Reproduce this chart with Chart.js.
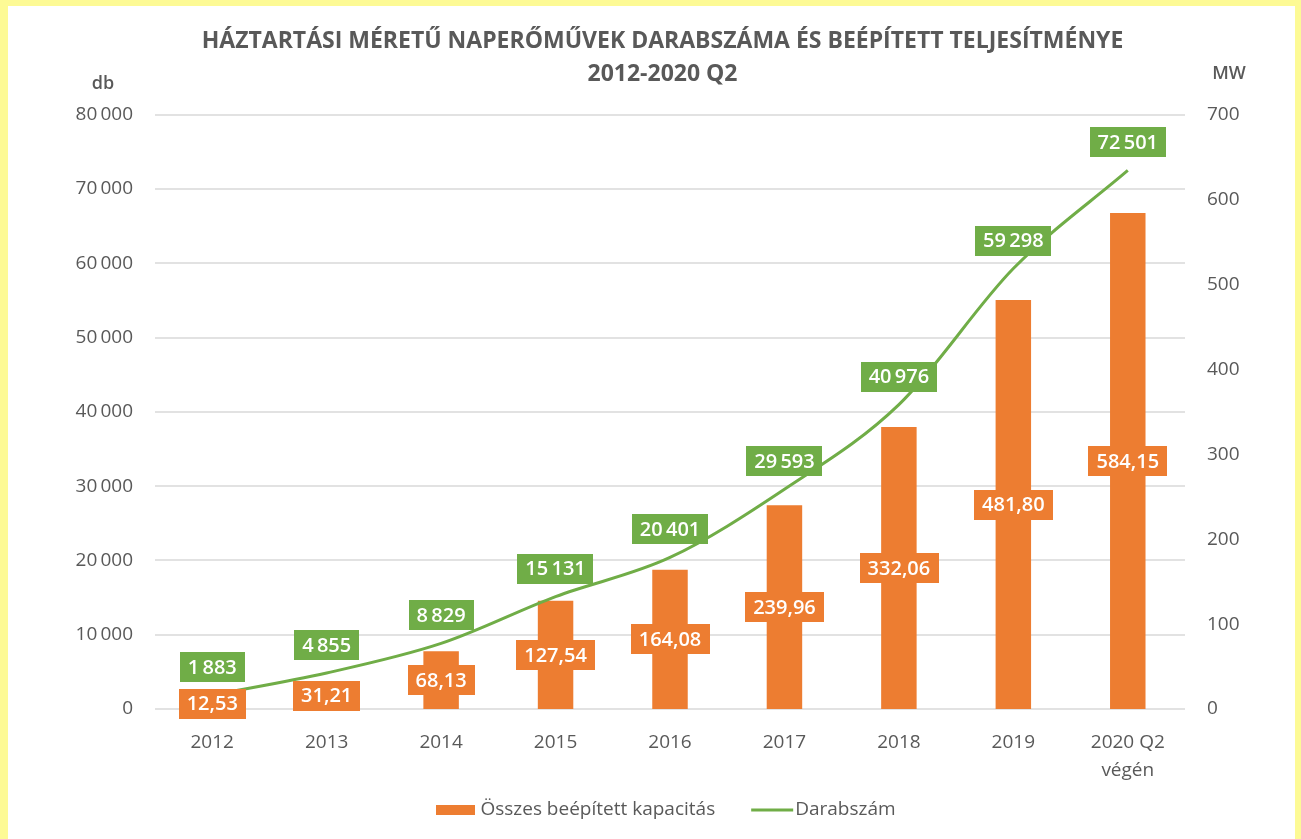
<!DOCTYPE html>
<html lang="hu">
<head>
<meta charset="utf-8">
<title>Háztartási méretű naperőművek</title>
<script src="https://cdn.jsdelivr.net/npm/chart.js@4.4.1/dist/chart.umd.min.js"></script>
<style>
  html, body { margin: 0; padding: 0; width: 1301px; height: 839px; overflow: hidden; background: #fdfa95; }
  #panel { position: absolute; left: 8px; top: 6px; width: 1287px; height: 833px; background: #ffffff; }
  canvas { display: block; }
</style>
</head>
<body>
<div id="panel"><canvas id="chart" width="1287" height="833"></canvas></div>
<script>
// Years shown on the category axis
const categories = ['2012', '2013', '2014', '2015', '2016', '2017', '2018', '2019', ['2020 Q2', 'végén']];
// Installed capacity, MW (bars, right axis)
const capacityMW = [12.53, 31.21, 68.13, 127.54, 164.08, 239.96, 332.06, 481.80, 584.15];
// Number of installations, pcs (line, left axis)
const unitCount = [1883, 4855, 8829, 15131, 20401, 29593, 40976, 59298, 72501];
// Axis ranges
const countAxisMax = 80000, countAxisStep = 10000;
const mwAxisMax = 700, mwAxisStep = 100;

const titleLines = ['HÁZTARTÁSI MÉRETŰ NAPERŐMŰVEK DARABSZÁMA ÉS BEÉPÍTETT TELJESÍTMÉNYE', '2012-2020 Q2'];
const seriesNames = ['Összes beépített kapacitás', 'Darabszám'];

const ORANGE = '#ED7D31';
const GREEN = '#70AD47';
const TEXT = '#595959';
const FONT = '"Open Sans", "DejaVu Sans", sans-serif';

// Hungarian number formats: space as thousands separator, comma as decimal mark
const fmtInt = v => String(Math.round(v)).replace(/\B(?=(\d{3})+(?!\d))/g, '\u2009');
const fmtDec = v => v.toFixed(2).replace('.', ',');

function labelBox(ctx, x, cy, text, fill) {
  const w = ctx.measureText(text).width + 16;
  const h = 30;
  ctx.fillStyle = fill;
  ctx.fillRect(Math.round(x - w / 2), Math.round(cy - h / 2), Math.round(w), h);
  ctx.fillStyle = '#ffffff';
  ctx.fillText(text, x, cy + 1);
}

// Value boxes on bars and line points, plus the unit captions above both axes
const valueLabels = {
  id: 'valueLabels',
  afterDatasetsDraw(chart) {
    const ctx = chart.ctx;
    ctx.save();
    ctx.font = '600 20px ' + FONT;
    ctx.textAlign = 'center';
    ctx.textBaseline = 'middle';
    chart.getDatasetMeta(0).data.forEach((bar, i) => {
      labelBox(ctx, bar.x, (bar.y + bar.base) / 2, fmtDec(capacityMW[i]), ORANGE);
    });
    chart.getDatasetMeta(1).data.forEach((pt, i) => {
      labelBox(ctx, pt.x, pt.y - 28, fmtInt(unitCount[i]), GREEN);
    });
    ctx.font = '600 18px ' + FONT;
    ctx.fillStyle = TEXT;
    const left = chart.scales.yCount, right = chart.scales.yMW;
    ctx.fillText('db', left.right - 52, chart.chartArea.top - 31);
    ctx.fillText('MW', right.left + 44, chart.chartArea.top - 41);
    ctx.restore();
  }
};

// Series key under the category axis: orange swatch for the bars, green stroke for the line
const seriesKey = {
  id: 'seriesKey',
  afterDraw(chart) {
    const ctx = chart.ctx;
    const area = chart.chartArea;
    const sw = 39, gapText = 5, gapItem = 36, lineW = 42;
    ctx.save();
    ctx.font = '19px ' + FONT;
    ctx.textBaseline = 'middle';
    ctx.textAlign = 'left';
    const w1 = ctx.measureText(seriesNames[0]).width;
    const w2 = ctx.measureText(seriesNames[1]).width;
    const total = sw + gapText + w1 + gapItem + lineW + 2 + w2;
    const cy = area.bottom + 101;
    let x = (area.left + area.right) / 2 - total / 2 - 4;
    ctx.fillStyle = ORANGE;
    ctx.fillRect(Math.round(x), Math.round(cy - 5), sw, 10);
    x += sw + gapText;
    ctx.fillStyle = TEXT;
    ctx.fillText(seriesNames[0], x, cy);
    x += w1 + gapItem;
    ctx.strokeStyle = GREEN;
    ctx.lineWidth = 3;
    ctx.beginPath();
    ctx.moveTo(x, cy);
    ctx.lineTo(x + lineW, cy);
    ctx.stroke();
    x += lineW + 2;
    ctx.fillText(seriesNames[1], x, cy);
    ctx.restore();
  }
};

new Chart(document.getElementById('chart'), {
  data: {
    labels: categories,
    datasets: [
      {
        type: 'bar',
        label: seriesNames[0],
        data: capacityMW,
        yAxisID: 'yMW',
        backgroundColor: ORANGE,
        borderWidth: 0,
        categoryPercentage: 1,
        barPercentage: 0.31,
        order: 2
      },
      {
        type: 'line',
        label: seriesNames[1],
        data: unitCount,
        yAxisID: 'yCount',
        borderColor: GREEN,
        backgroundColor: GREEN,
        borderWidth: 3,
        pointRadius: 0,
        pointHoverRadius: 0,
        cubicInterpolationMode: 'monotone',
        order: 1
      }
    ]
  },
  options: {
    responsive: false,
    animation: false,
    layout: { padding: { left: 22, right: 0, top: 0, bottom: 56 } },
    plugins: {
      tooltip: { enabled: false },
      legend: { display: false },
      title: {
        display: true,
        text: titleLines,
        color: TEXT,
        font: { family: FONT, size: 23, weight: 'bold', lineHeight: 1.43 },
        padding: { top: 19, bottom: 24 }
      }
    },
    scales: {
      x: {
        grid: { display: false },
        border: { display: false },
        ticks: { color: TEXT, font: { family: FONT, size: 19, lineHeight: 1.5 }, padding: 11, maxRotation: 0 },
        afterFit(scale) { scale.height = 74; }
      },
      yCount: {
        position: 'left',
        min: 0, max: countAxisMax,
        grid: { color: '#e2e2e2', lineWidth: 2, drawTicks: false },
        border: { display: false },
        ticks: { stepSize: countAxisStep, color: TEXT, font: { family: FONT, size: 19 }, padding: 22,
                 callback: v => fmtInt(v) },
        afterFit(scale) { scale.width = 125; }
      },
      yMW: {
        position: 'right',
        min: 0, max: mwAxisMax,
        grid: { display: false, drawTicks: false },
        border: { display: false },
        ticks: { stepSize: mwAxisStep, color: TEXT, font: { family: FONT, size: 19 }, padding: 22 },
        afterFit(scale) { scale.width = 110; }
      }
    }
  },
  plugins: [valueLabels, seriesKey]
});
</script>
</body>
</html>
